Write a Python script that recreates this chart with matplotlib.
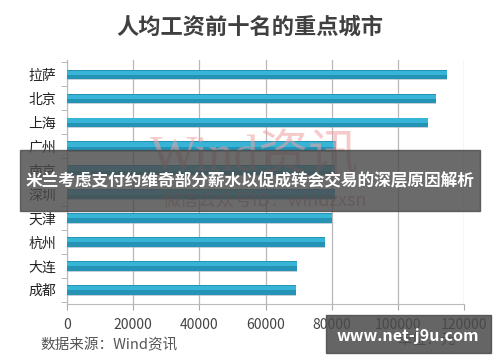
import matplotlib.pyplot as plt
from matplotlib.patches import Rectangle

plt.rcParams['font.family'] = ['Noto Sans CJK SC', 'DejaVu Sans']

# data (yuan per year)
cities = ['拉萨', '北京', '上海', '广州', '南京', '深圳', '天津', '杭州', '大连', '成都']
wages = [114800, 111500, 109200, 81300, 81000, 81000, 80200, 78000, 69600, 69200]
xticks = [0, 20000, 40000, 60000, 80000, 100000, 120000]

fig = plt.figure(figsize=(5, 3.62), dpi=100)
ax = fig.add_axes([0.134, 0.160, 0.794, 0.674])

ypos = list(range(len(cities)))[::-1]
# shadow, body, highlight for the glossy look
ax.barh([y - 0.04 for y in ypos], wages, height=0.42, color='#9fb3bb', alpha=0.6, zorder=2)
ax.barh(ypos, wages, height=0.40, color='#2593b5', zorder=3)
ax.barh([y + 0.07 for y in ypos], wages, height=0.18, color='#38b4d6', zorder=4)

ax.set_xlim(0, 120000)
ax.set_ylim(-0.6, len(cities) - 0.4)
ax.set_yticks(ypos)
ax.set_yticklabels(cities, fontsize=10, color='#222222')
ax.set_yticks([y + 0.5 for y in range(-1, len(cities))], minor=True)
ax.tick_params(axis='y', which='major', length=0, pad=8)
ax.tick_params(axis='y', which='minor', length=4, color='#aaaaaa')
ax.set_xticks(xticks)
ax.set_xticklabels([str(v) for v in xticks], fontsize=10, color='#444444')
ax.tick_params(axis='x', length=4, color='#aaaaaa', pad=6)
ax.grid(axis='x', color='#b8b8b8', linewidth=0.9, zorder=0)
for s in ['top', 'right']:
    ax.spines[s].set_visible(False)
for s in ['left', 'bottom']:
    ax.spines[s].set_color('#bbbbbb')

fig.text(0.5, 0.925, '人均工资前十名的重点城市', ha='center', va='center',
         fontsize=16, fontweight='bold', color='#404040')
fig.text(0.08, 0.045, '数据来源：Wind资讯', ha='left', va='center', fontsize=10.5, color='#555555')
fig.text(0.794, 1 - 340 / 362, '单位：元', ha='left', va='center', fontsize=10.5, color='#555555')

# faint watermark
fig.text(0.51, 0.565, 'Wind资讯', ha='center', va='center', fontsize=36,
         color='#f0a0a0', alpha=0.55, family=['Liberation Serif', 'Noto Sans CJK SC'], zorder=5)
fig.text(0.53, 0.445, '微信公众号ID：windzxsn', ha='center', va='center', fontsize=13,
         color='#d07070', alpha=0.6, family=['Noto Sans CJK SC', 'Liberation Serif'], zorder=5)

# overlay banners
fig.patches.append(Rectangle((0.04, 1 - 211 / 362), 0.92, 61 / 362, transform=fig.transFigure,
                             color='#4a4a4a', alpha=0.82, zorder=10))
fig.text(0.5, 1 - 181 / 362, '米兰考虑支付约维奇部分薪水以促成转会交易的深层原因解析',
         ha='center', va='center', fontsize=12, fontweight='bold', color='white', zorder=11)
fig.patches.append(Rectangle((326 / 500, 1 - 353 / 362), 165 / 500, 38 / 362, transform=fig.transFigure,
                             color='#4a4a4a', alpha=0.85, zorder=10))
fig.text(408 / 500, 1 - 336 / 362, 'www.net-j9u.com', ha='center', va='center',
         fontsize=11.5, fontweight='bold', color='white', zorder=11)

fig.savefig('out.png', dpi=100)
